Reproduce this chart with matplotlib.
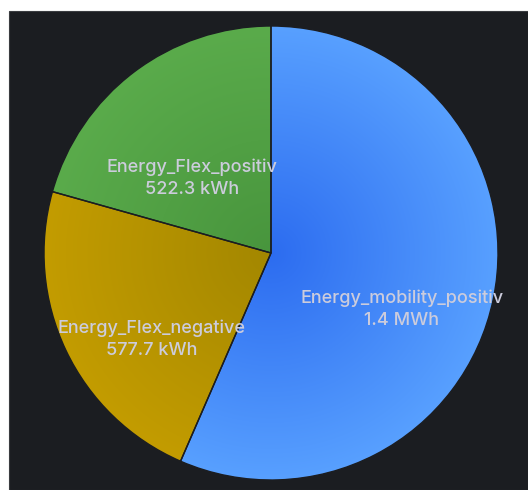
import numpy as np
import matplotlib
matplotlib.use("Agg")
import matplotlib.pyplot as plt
from matplotlib.patches import Rectangle
from matplotlib.colors import to_rgb

# Series
labels = ["Energy_mobility_positiv", "Energy_Flex_negative", "Energy_Flex_positiv"]
values_kwh = [1430.0, 577.7, 522.3]

# Radial gradient colours per slice (centre -> rim)
inner_colors = ["#2c6cf0", "#a38700", "#48953d"]
outer_colors = ["#58a0ff", "#c39c00", "#5aab4b"]

# Label anchors in pie-radius units: (x centre, first-line baseline)
label_anchor = [(0.577, -0.220), (-0.526, -0.351), (-0.348, 0.358)]


def fmt_energy(v):
    if v >= 1000:
        return f"{v / 1000:.1f} MWh"
    return f"{v:.1f} kWh"


W, H = 528, 490
fig = plt.figure(figsize=(W / 100, H / 100), dpi=100)
fig.patch.set_facecolor("white")

# dark panel
fig.patches.append(Rectangle((9 / W, 0), 1 - 9 / W, (H - 11) / H,
                             transform=fig.transFigure, facecolor="#1b1d21",
                             edgecolor="#3a3c40", linewidth=0.8, zorder=-10))

cx, cy, R = 271, 253, 227
ax = fig.add_axes([(cx - R) / W, (H - cy - R) / H, 2 * R / W, 2 * R / H])
ax.set_facecolor("none")
ax.set_zorder(5)

wedges, _ = ax.pie(values_kwh, startangle=90, counterclock=False, radius=1.0,
                   colors=["none"] * 3,
                   wedgeprops=dict(edgecolor="#1b1d21", linewidth=1.0))
ax.set_aspect("auto")
ax.axis("off")

n = 600
xs = np.linspace(-1, 1, n)
X, Y = np.meshgrid(xs, xs)
Rr = np.clip(np.sqrt(X ** 2 + Y ** 2), 0, 1)[..., None]

for w, c0, c1 in zip(wedges, inner_colors, outer_colors):
    a = np.array(to_rgb(c0))
    b = np.array(to_rgb(c1))
    img = a + (b - a) * Rr
    im = ax.imshow(img, extent=(-1, 1, -1, 1), origin="lower",
                   interpolation="bilinear", zorder=1)
    im.set_clip_path(w)
    w.set_zorder(2)

ax.set_xlim(-1, 1)
ax.set_ylim(-1, 1)

line_gap = 0.099
for (lx, ly), name, v in zip(label_anchor, labels, values_kwh):
    for i, s in enumerate([name, fmt_energy(v)]):
        ax.text(lx, ly - i * line_gap, s, ha="center", va="baseline",
                fontsize=13, family="Inter", fontweight="medium",
                color="#ccccdc", zorder=5)

fig.savefig("out.png", dpi=100, facecolor=fig.get_facecolor())
